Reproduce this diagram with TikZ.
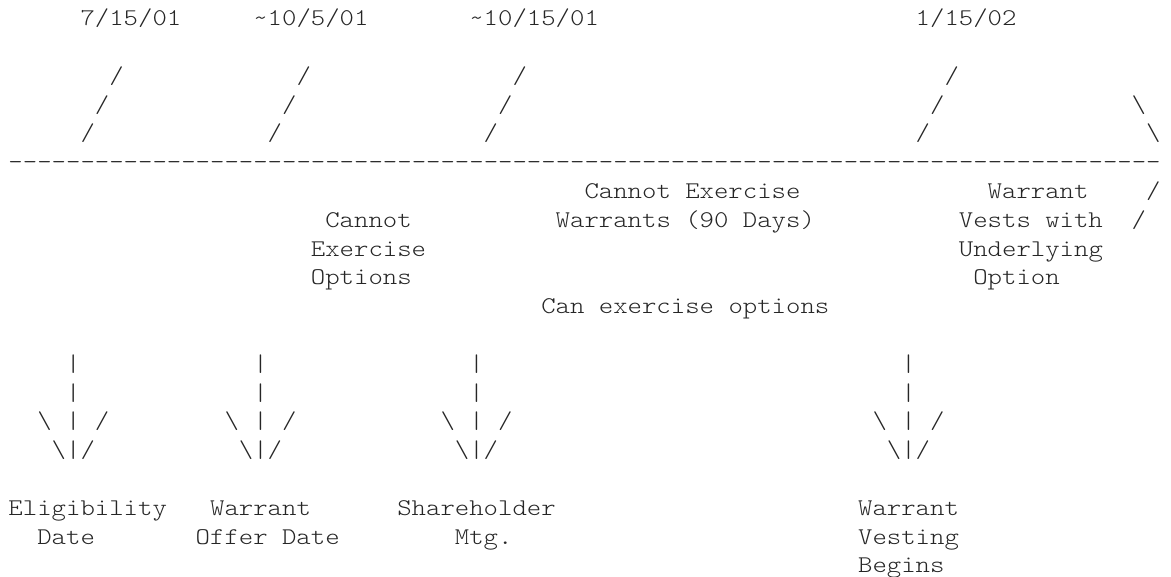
\documentclass[tikz,border=0pt]{standalone}
\usepackage{fontspec}
\newfontfamily\cmono{lmmonolt10-regular.otf}[FakeStretch=1.143]
\begin{document}
\begin{tikzpicture}[x=1pt,y=1pt,
  txt/.style={anchor=base west,inner sep=0pt,outer sep=0pt,text=black!85,
    font=\cmono\fontsize{24}{28.8}\selectfont}]
\useasboundingbox (0,0) rectangle (1171,-577);
\def\cx#1{8.5+14.4*#1}
\def\ry#1{-25.7-28.8*#1}
% row 0 : dates
\node[txt] (d1) at ({\cx{5}},{\ry{0}}) {7/15/01};
\node[txt] (d2) at ({\cx{17}},{\ry{0}}) {\textasciitilde 10/5/01};
\node[txt] (d3) at ({\cx{32}},{\ry{0}}) {\textasciitilde 10/15/01};
\node[txt] (d4) at ({\cx{63}},{\ry{0}}) {1/15/02};
% slashes rows 2-4
\node[txt] (s1a) at ({\cx{7}},{\ry{2}}) {/};
\node[txt] (s1b) at ({\cx{6}},{\ry{3}}) {/};
\node[txt] (s1c) at ({\cx{5}},{\ry{4}}) {/};
\node[txt] (s2a) at ({\cx{20}},{\ry{2}}) {/};
\node[txt] (s2b) at ({\cx{19}},{\ry{3}}) {/};
\node[txt] (s2c) at ({\cx{18}},{\ry{4}}) {/};
\node[txt] (s3a) at ({\cx{35}},{\ry{2}}) {/};
\node[txt] (s3b) at ({\cx{34}},{\ry{3}}) {/};
\node[txt] (s3c) at ({\cx{33}},{\ry{4}}) {/};
\node[txt] (s4a) at ({\cx{65}},{\ry{2}}) {/};
\node[txt] (s4b) at ({\cx{64}},{\ry{3}}) {/};
\node[txt] (s4c) at ({\cx{63}},{\ry{4}}) {/};
\node[txt] (b1) at ({\cx{78}},{\ry{3}}) {\textbackslash};
\node[txt] (b2) at ({\cx{79}},{\ry{4}}) {\textbackslash};
% row 5 : timeline
\node[txt] (line) at ({\cx{0}},{\ry{5}}) {--------------------------------------------------------------------------------};
% rows 6-10
\node[txt] (ce1) at ({\cx{40}},{\ry{6}}) {Cannot Exercise};
\node[txt] (wv1) at ({\cx{68}},{\ry{6}}) {Warrant};
\node[txt] (r1) at ({\cx{79}},{\ry{6}}) {/};
\node[txt] (co1) at ({\cx{22}},{\ry{7}}) {Cannot};
\node[txt] (ce2) at ({\cx{38}},{\ry{7}}) {Warrants (90 Days)};
\node[txt] (wv2) at ({\cx{66}},{\ry{7}}) {Vests with};
\node[txt] (r2) at ({\cx{78}},{\ry{7}}) {/};
\node[txt] (co2) at ({\cx{21}},{\ry{8}}) {Exercise};
\node[txt] (wv3) at ({\cx{66}},{\ry{8}}) {Underlying};
\node[txt] (co3) at ({\cx{21}},{\ry{9}}) {Options};
\node[txt] (wv4) at ({\cx{67}},{\ry{9}}) {Option};
\node[txt] (can) at ({\cx{37}},{\ry{10}}) {Can exercise options};
% arrows rows 12-15
\foreach \c/\n in {4/1,17/2,32/3,62/4}{
  \node[txt] (p\n a) at ({\cx{\c}},{\ry{12}}) {|};
  \node[txt] (p\n b) at ({\cx{\c}},{\ry{13}}) {|};
  \node[txt] (h\n a) at ({\cx{(\c-2)}},{\ry{14}}) {\textbackslash{} | /};
  \node[txt] (h\n b) at ({\cx{(\c-1)}},{\ry{15}}) {\textbackslash|/};
}
% labels rows 17-19
\node[txt] (l1a) at ({\cx{0}},{\ry{17}}) {Eligibility};
\node[txt] (l1b) at ({\cx{2}},{\ry{18}}) {Date};
\node[txt] (l2a) at ({\cx{14}},{\ry{17}}) {Warrant};
\node[txt] (l2b) at ({\cx{13}},{\ry{18}}) {Offer Date};
\node[txt] (l3a) at ({\cx{27}},{\ry{17}}) {Shareholder};
\node[txt] (l3b) at ({\cx{31}},{\ry{18}}) {Mtg.};
\node[txt] (l4a) at ({\cx{59}},{\ry{17}}) {Warrant};
\node[txt] (l4b) at ({\cx{59}},{\ry{18}}) {Vesting};
\node[txt] (l4c) at ({\cx{59}},{\ry{19}}) {Begins};
\end{tikzpicture}
\end{document}
